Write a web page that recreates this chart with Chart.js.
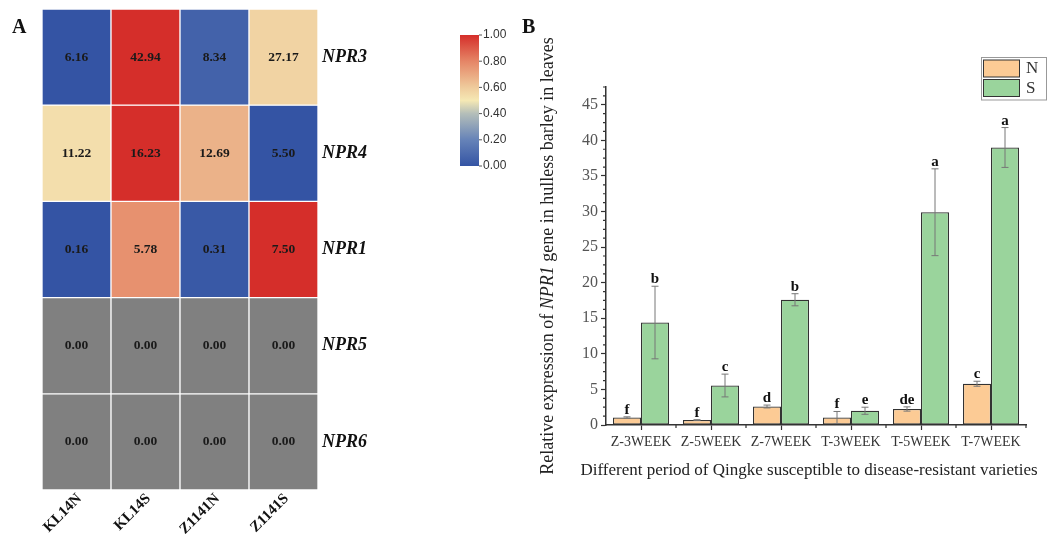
<!DOCTYPE html>
<html>
<head>
<meta charset="utf-8">
<script src="https://cdn.jsdelivr.net/npm/chart.js@4.4.0/dist/chart.umd.min.js"></script>
<style>
  body { margin: 0; background: #fff; width: 1054px; height: 536px; position: relative; overflow: hidden; }
  #wrapA { position: absolute; left: 0; top: 0; width: 520px; height: 536px; }
  #wrapB { position: absolute; left: 520px; top: 0; width: 534px; height: 536px; }
  .tag { position: absolute; font: bold 20px 'Liberation Serif', 'Times New Roman', serif; color: #111; z-index: 2; }
</style>
</head>
<body>
<div class="tag" style="left:12px;top:15px">A</div>
<div class="tag" style="left:522px;top:15px">B</div>
<div id="wrapA"><canvas id="heatChart"></canvas></div>
<div id="wrapB"><canvas id="barChart"></canvas></div>
<script>
const SERIF = "'Liberation Serif', 'Times New Roman', serif";

// Panel A - heatmap data
const heatCols = ['KL14N', 'KL14S', 'Z1141N', 'Z1141S'];
const heatRows = ['NPR3', 'NPR4', 'NPR1', 'NPR5', 'NPR6'];
const heatNPR3 = [6.16, 42.94, 8.34, 27.17];
const heatNPR4 = [11.22, 16.23, 12.69, 5.50];
const heatNPR1 = [0.16, 5.78, 0.31, 7.50];
const heatNPR5 = [0.00, 0.00, 0.00, 0.00];
const heatNPR6 = [0.00, 0.00, 0.00, 0.00];
const heatValues = [heatNPR3, heatNPR4, heatNPR1, heatNPR5, heatNPR6];
const scaleTicks = [0, 0.2, 0.4, 0.6, 0.8, 1.0];

// Panel B - bar data
const periods = ['Z-3WEEK', 'Z-5WEEK', 'Z-7WEEK', 'T-3WEEK', 'T-5WEEK', 'T-7WEEK'];
const valN = [1.05, 0.7, 2.6, 1.05, 2.25, 5.8];
const errN = [0.1, 0.05, 0.2, 0.85, 0.3, 0.35];
const sigN = ['f', 'f', 'd', 'f', 'de', 'c'];
const valS = [14.4, 5.55, 17.6, 2.0, 29.9, 39.0];
const errS = [5.1, 1.6, 0.85, 0.5, 6.1, 2.8];
const sigS = ['b', 'c', 'b', 'e', 'a', 'a'];
const yTicks = [0, 5, 10, 15, 20, 25, 30, 35, 40, 45];
const yMinorStep = 1.25;

// colour scale (row-normalised)
const colorStops = [
    [0.0, [52, 84, 164]],
    [0.2, [102, 131, 184]],
    [0.4, [180, 190, 185]],
    [0.5, [245, 232, 180]],
    [0.6, [239, 203, 156]],
    [0.8, [229, 133, 102]],
    [1.0, [213, 46, 42]]
];
function scaleColor(t) {
    for (let i = 1; i < colorStops.length; i++) {
        if (t <= colorStops[i][0]) {
            const [t0, c0] = colorStops[i - 1];
            const [t1, c1] = colorStops[i];
            const f = (t - t0) / (t1 - t0);
            const c = c0.map((v, k) => Math.round(v + (c1[k] - v) * f));
            return `rgb(${c[0]},${c[1]},${c[2]})`;
        }
    }
    const c = colorStops[colorStops.length - 1][1];
    return `rgb(${c[0]},${c[1]},${c[2]})`;
}
function rowColors(row) {
    const mn = Math.min(...row), mx = Math.max(...row);
    return row.map(v => mx === mn ? '#808080' : scaleColor((v - mn) / (mx - mn)));
}

const heatPlugin = {
    id: 'heatExtras',
    afterDatasetsDraw(chart) {
        const ctx = chart.ctx;
        ctx.save();
        ctx.font = `bold 13.5px ${SERIF}`;
        ctx.fillStyle = '#1a1a1a';
        ctx.textAlign = 'center';
        ctx.textBaseline = 'middle';
        chart.data.datasets.forEach((ds, di) => {
            chart.getDatasetMeta(di).data.forEach((el, ci) => {
                ctx.fillText(heatValues[di][ci].toFixed(2), el.x, (el.y + el.base) / 2);
            });
        });
        // colour bar
        const bx = 460, bw = 19, by = 35, bh = 131;
        const grad = ctx.createLinearGradient(0, by + bh, 0, by);
        colorStops.forEach(([t]) => grad.addColorStop(t, scaleColor(t)));
        ctx.fillStyle = grad;
        ctx.fillRect(bx, by, bw, bh);
        ctx.strokeStyle = '#555';
        ctx.lineWidth = 1;
        ctx.font = '12px Arial, "Liberation Sans", sans-serif';
        ctx.fillStyle = '#333';
        ctx.textAlign = 'left';
        scaleTicks.forEach(t => {
            const y = by + bh - t * bh;
            ctx.beginPath();
            ctx.moveTo(bx + bw, y);
            ctx.lineTo(bx + bw + 3, y);
            ctx.stroke();
            ctx.fillText(t.toFixed(2), bx + bw + 4, y);
        });
        ctx.restore();
    }
};

new Chart(document.getElementById('heatChart'), {
    type: 'bar',
    data: {
        labels: heatCols,
        datasets: heatRows.map((r, ri) => ({
            label: r,
            data: heatCols.map(() => [ri, ri + 1]),
            backgroundColor: rowColors(heatValues[ri]),
            borderColor: '#ffffff',
            borderWidth: 1,
            borderSkipped: false,
            categoryPercentage: 1,
            barPercentage: 1
        }))
    },
    options: {
        responsive: true,
        maintainAspectRatio: false,
        animation: false,
        layout: { padding: { left: 42, top: 9, right: 0, bottom: 0 } },
        plugins: { legend: { display: false }, tooltip: { enabled: false } },
        scales: {
            x: {
                stacked: true,
                grid: { display: false, drawTicks: false },
                border: { display: false },
                ticks: { minRotation: 45, maxRotation: 45, padding: 0, labelOffset: 3, color: '#111', font: { family: SERIF, size: 15, weight: 'bold' } },
                afterFit: s => { s.height = 46; }
            },
            y: {
                position: 'right',
                min: 0, max: 5, reverse: true,
                grid: { display: false, drawTicks: false },
                border: { display: false },
                afterBuildTicks: s => { s.ticks = heatRows.map((r, i) => ({ value: i + 0.5 })); },
                ticks: {
                    padding: 4, color: '#111',
                    font: { family: SERIF, size: 18, weight: 'bold', style: 'italic' },
                    callback: v => heatRows[Math.floor(v)]
                },
                afterFit: s => { s.width = 202; s.paddingTop = 0; s.paddingBottom = 0; }
            }
        }
    },
    plugins: [heatPlugin]
});

const barPlugin = {
    id: 'barExtras',
    afterDatasetsDraw(chart) {
        const ctx = chart.ctx;
        const xs = chart.scales.x, ys = chart.scales.y;
        const vals = [valN, valS], errs = [errN, errS], sigs = [sigN, sigS];
        ctx.save();
        // error bars + letters
        chart.data.datasets.forEach((ds, di) => {
            chart.getDatasetMeta(di).data.forEach((el, i) => {
                const top = ys.getPixelForValue(vals[di][i] + errs[di][i]);
                const bot = ys.getPixelForValue(Math.max(0, vals[di][i] - errs[di][i]));
                ctx.strokeStyle = '#777';
                ctx.lineWidth = 1;
                ctx.beginPath();
                ctx.moveTo(el.x, top); ctx.lineTo(el.x, bot);
                ctx.moveTo(el.x - 3.5, top); ctx.lineTo(el.x + 3.5, top);
                ctx.moveTo(el.x - 3.5, bot); ctx.lineTo(el.x + 3.5, bot);
                ctx.stroke();
                ctx.fillStyle = '#111';
                ctx.font = `bold 15px ${SERIF}`;
                ctx.textAlign = 'center';
                ctx.textBaseline = 'alphabetic';
                ctx.fillText(sigs[di][i], el.x, top - 3);
            });
        });
        // minor ticks
        ctx.strokeStyle = '#333';
        ctx.lineWidth = 1.2;
        ctx.beginPath();
        for (let v = yMinorStep; v <= ys.max + 1e-6; v += yMinorStep) {
            if (Math.abs(v % 5) < 1e-6) continue;
            const y = ys.getPixelForValue(v);
            ctx.moveTo(xs.left - 3, y); ctx.lineTo(xs.left, y);
        }
        for (let i = 1; i < periods.length; i++) {
            const x = (xs.getPixelForValue(i - 1) + xs.getPixelForValue(i)) / 2;
            ctx.moveTo(x, ys.bottom); ctx.lineTo(x, ys.bottom + 3);
        }
        const xe = xs.getPixelForValue(periods.length - 1) + (xs.getPixelForValue(1) - xs.getPixelForValue(0)) / 2;
        ctx.moveTo(xe, ys.bottom); ctx.lineTo(xe, ys.bottom + 3);
        ctx.stroke();
        // axis titles
        ctx.fillStyle = '#222';
        ctx.textBaseline = 'alphabetic';
        ctx.textAlign = 'left';
        const parts = [
            ['Relative expression of ', ''],
            ['NPR1', 'italic '],
            [' gene in hulless barley in leaves', '']
        ];
        const fs = 18;
        let total = 0;
        parts.forEach(p => { ctx.font = `${p[1]}${fs}px ${SERIF}`; total += ctx.measureText(p[0]).width; });
        ctx.save();
        ctx.translate(33, 256);
        ctx.rotate(-Math.PI / 2);
        let cx = -total / 2;
        parts.forEach(p => {
            ctx.font = `${p[1]}${fs}px ${SERIF}`;
            ctx.fillText(p[0], cx, 0);
            cx += ctx.measureText(p[0]).width;
        });
        ctx.restore();
        ctx.font = `17px ${SERIF}`;
        ctx.textAlign = 'center';
        ctx.fillText('Different period of Qingke susceptible to disease-resistant varieties', 289, 475);
        // legend
        ctx.strokeStyle = '#999';
        ctx.lineWidth = 1;
        ctx.strokeRect(461.5, 57.5, 65, 42.5);
        chart.data.datasets.forEach((ds, di) => {
            const y = 60 + di * 19.5;
            ctx.fillStyle = ds.backgroundColor;
            ctx.fillRect(463.5, y, 36, 17);
            ctx.strokeStyle = '#333';
            ctx.strokeRect(463.5, y, 36, 17);
            ctx.fillStyle = '#333';
            ctx.font = `17px ${SERIF}`;
            ctx.textAlign = 'left';
            ctx.textBaseline = 'middle';
            ctx.fillText(ds.label, 506, y + 9);
        });
        ctx.restore();
    }
};

new Chart(document.getElementById('barChart'), {
    type: 'bar',
    data: {
        labels: periods,
        datasets: [
            { label: 'N', data: valN, backgroundColor: '#FCCB95', borderColor: '#333', borderWidth: 1.2, borderSkipped: false, categoryPercentage: 0.8, barPercentage: 1 },
            { label: 'S', data: valS, backgroundColor: '#9AD49C', borderColor: '#333', borderWidth: 1.2, borderSkipped: false, categoryPercentage: 0.8, barPercentage: 1 }
        ]
    },
    options: {
        responsive: true,
        maintainAspectRatio: false,
        animation: false,
        layout: { padding: { left: 0, top: 87, right: 28, bottom: 0 } },
        plugins: { legend: { display: false }, tooltip: { enabled: false } },
        scales: {
            x: {
                grid: { offset: false, drawOnChartArea: false, tickLength: 5, color: '#333', tickWidth: 1.2 },
                border: { color: '#333', width: 1.5 },
                ticks: { padding: 4, color: '#333', font: { family: SERIF, size: 14 } },
                afterFit: s => { s.height = 111; }
            },
            y: {
                min: 0, max: 47.5,
                afterBuildTicks: s => { s.ticks = yTicks.map(v => ({ value: v })); },
                grid: { drawOnChartArea: false, tickLength: 5, color: '#333', tickWidth: 1.2 },
                border: { color: '#333', width: 1.5 },
                ticks: { padding: 3, color: '#555', font: { family: SERIF, size: 16 } },
                afterFit: s => { s.width = 86; }
            }
        }
    },
    plugins: [barPlugin]
});
</script>
</body>
</html>
